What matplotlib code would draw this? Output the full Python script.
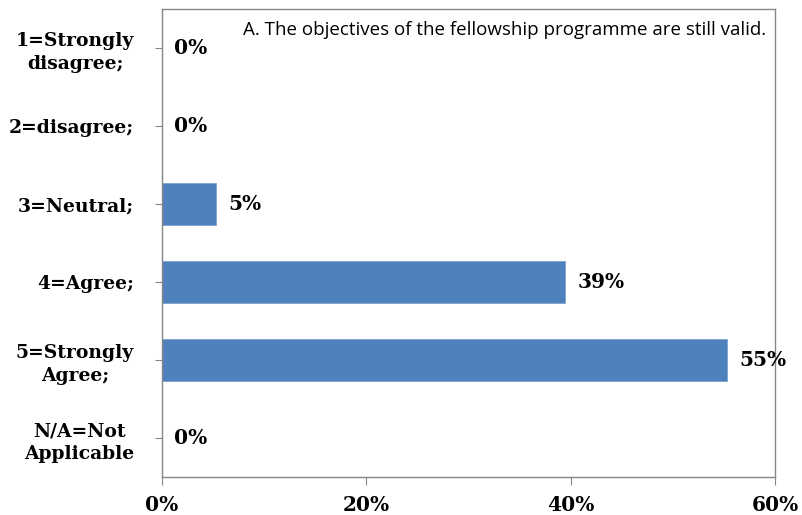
import matplotlib.pyplot as plt
import numpy as np

categories = ["1=Strongly\ndisagree;", "2=disagree;", "3=Neutral;",
              "4=Agree;", "5=Strongly\nAgree;", "N/A=Not\nApplicable"]
shares = [0.0, 0.0, 0.0526, 0.3947, 0.5526, 0.0]
x_ticks = [0.0, 0.2, 0.4, 0.6]
title = "A. The objectives of the fellowship programme are still valid."

bar_color = "#4F81BD"
axis_color = "#868686"
label_font = {"family": "DejaVu Serif", "weight": "bold", "size": 13.5}
pct_font = {"family": "DejaVu Serif", "weight": "bold", "size": 14.5}

fig = plt.figure(figsize=(8.03, 5.15), dpi=100)
ax = fig.add_axes([162 / 803, 1 - 477 / 515, 613 / 803, 468 / 515])

y = np.arange(len(categories))
bars = ax.barh(y, shares, height=0.53, color=bar_color, edgecolor="#7FA3D0", linewidth=0.6)
ax.set_ylim(len(categories) - 0.5, -0.5)
ax.set_xlim(0, 0.6)

for rect, v in zip(bars, shares):
    ax.annotate(f"{v:.0%}", (v, rect.get_y() + rect.get_height() / 2),
                xytext=(9, 0), textcoords="offset points",
                va="center", ha="left", **pct_font)

ax.set_xticks(x_ticks)
ax.set_xticklabels([f"{t:.0%}" for t in x_ticks], fontdict=pct_font)
ax.set_yticks(y)
ax.set_yticklabels(categories, fontdict=label_font, linespacing=1.35)
for lbl in ax.get_yticklabels():
    lbl.set_multialignment("center")

ax.tick_params(axis="x", length=6, color=axis_color, pad=7)
ax.tick_params(axis="y", length=5, color=axis_color, pad=15)
for s in ax.spines.values():
    s.set_color(axis_color)
    s.set_linewidth(1.0)

ax.text(0.985, 0.975, title, transform=ax.transAxes, ha="right", va="top",
        family="Open Sans", fontsize=13.5)

fig.savefig("out.png", dpi=100)
